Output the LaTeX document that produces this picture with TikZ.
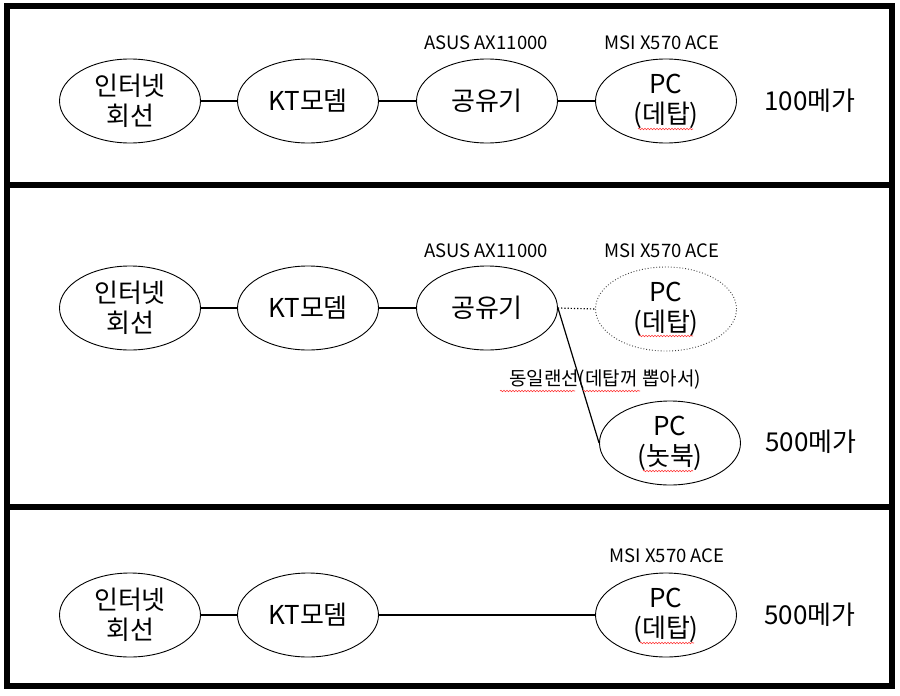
\documentclass[tikz,border=0pt]{standalone}
\usepackage{fontspec}
\setmainfont{Noto Sans CJK KR}
\usetikzlibrary{shapes.geometric,decorations.pathmorphing}
\tikzset{
  panel/.style={line width=6pt},
  dev/.style={ellipse,draw,line width=0.9pt,minimum width=141pt,minimum height=84pt,inner sep=0pt,font=\fontsize{26}{30}\selectfont,align=center},
  ghost/.style={dev,dotted,draw=black!75},
  model/.style={font=\fontsize{18.5}{20}\selectfont},
  speed/.style={font=\fontsize{26}{30}\selectfont},
  note/.style={font=\fontsize{19}{21}\selectfont},
  wire/.style={line width=1.2pt},
  dwire/.style={line width=1.2pt,dotted},
  spell/.style={draw=red!80,line width=0.6pt,decorate,decoration={snake,amplitude=0.7pt,segment length=3pt}}
}
\begin{document}
\begin{tikzpicture}[x=1pt,y=-1pt]
\useasboundingbox (0,0) rectangle (900,696);
\fill[white] (0,0) rectangle (900,696);
% panels
\draw[panel] (6.5,6) rectangle (892,185);
\draw[panel] (6.5,185) rectangle (892,506.5);
\draw[panel] (6.5,506.5) rectangle (892,686);

% panel 1
\node[dev] (a1) at (130,101) {인터넷\\회선};
\node[dev] (b1) at (308,101) {KT모뎀};
\node[dev] (c1) at (487,101) {공유기};
\node[dev] (d1) at (666,101) {PC\\(데탑)};
\node[model] (c1l) at (486,43) {ASUS AX11000};
\node[model] (d1l) at (662,43) {MSI X570 ACE};
\node[speed] (s1) at (810,101) {100메가};
\draw[wire] (a1) -- (b1);
\draw[wire] (b1) -- (c1);
\draw[wire] (c1) -- (d1);

% panel 2
\node[dev] (a2) at (130,308) {인터넷\\회선};
\node[dev] (b2) at (308,308) {KT모뎀};
\node[dev] (c2) at (487,308) {공유기};
\node[ghost] (d2) at (666,309) {PC\\(데탑)};
\node[dev] (e2) at (670,443) {PC\\(놋북)};
\node[model] (c2l) at (486,251) {ASUS AX11000};
\node[model] (d2l) at (662,251) {MSI X570 ACE};
\node[note] (n2) at (605,380) {동일랜선(데탑꺼 뽑아서)};
\node[speed] (s2) at (811,442) {500메가};
\draw[wire] (a2) -- (b2);
\draw[wire] (b2) -- (c2);
\draw[dwire] (c2.east) -- (d2.west);
\draw[wire] (c2.east) -- (e2.west);

% panel 3
\node[dev] (a3) at (130,615) {인터넷\\회선};
\node[dev] (b3) at (308,615) {KT모뎀};
\node[dev] (d3) at (666,615) {PC\\(데탑)};
\node[model] (d3l) at (667,556) {MSI X570 ACE};
\node[speed] (s3) at (810,615) {500메가};
\draw[wire] (a3) -- (b3);
\draw[wire] (b3) -- (d3);

% spell-check underlines
\draw[spell] (638,129) -- (693,129);
\draw[spell] (639,336) -- (693,336);
\draw[spell] (643,471) -- (693,471);
\draw[spell] (500,391) -- (575,391);
\draw[spell] (583,391) -- (640,391);
\draw[spell] (640,643) -- (694,643);
\end{tikzpicture}
\end{document}
